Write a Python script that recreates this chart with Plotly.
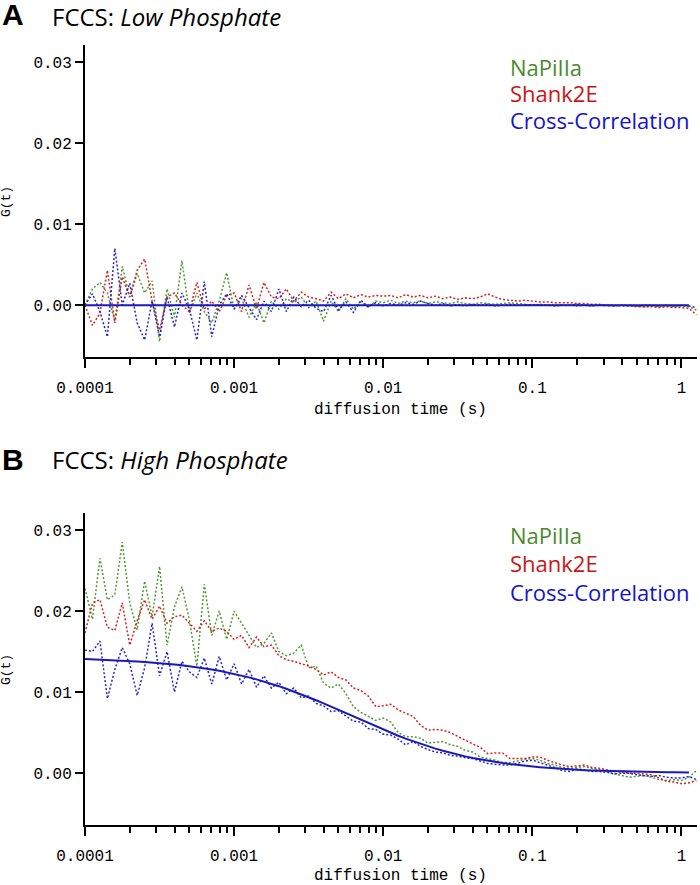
import plotly.graph_objects as go

# lag times (s)
TAU = [
    1.000e-4, 1.122e-4, 1.259e-4, 1.413e-4, 1.585e-4, 1.778e-4, 1.995e-4, 2.239e-4, 2.512e-4, 2.818e-4,
    3.162e-4, 3.548e-4, 3.981e-4, 4.467e-4, 5.012e-4, 5.623e-4, 6.310e-4, 7.079e-4, 7.943e-4, 8.913e-4,
    1.000e-3, 1.122e-3, 1.259e-3, 1.413e-3, 1.585e-3, 1.778e-3, 1.995e-3, 2.239e-3, 2.512e-3, 2.818e-3,
    3.162e-3, 3.548e-3, 3.981e-3, 4.467e-3, 5.012e-3, 5.623e-3, 6.310e-3, 7.079e-3, 7.943e-3, 8.913e-3,
    1.000e-2, 1.122e-2, 1.259e-2, 1.413e-2, 1.585e-2, 1.778e-2, 1.995e-2, 2.239e-2, 2.512e-2, 2.818e-2,
    3.162e-2, 3.548e-2, 3.981e-2, 4.467e-2, 5.012e-2, 5.623e-2, 6.310e-2, 7.079e-2, 7.943e-2, 8.913e-2,
    1.000e-1, 1.122e-1, 1.259e-1, 1.413e-1, 1.585e-1, 1.778e-1, 1.995e-1, 2.239e-1, 2.512e-1, 2.818e-1,
    3.162e-1, 3.548e-1, 3.981e-1, 4.467e-1, 5.012e-1, 5.623e-1, 6.310e-1, 7.079e-1, 7.943e-1, 8.913e-1,
    1.000, 1.122, 1.259,
]
TAU_FIT = TAU[:82]

# ---- Panel A: Low phosphate (G(t) values x 1e-3) ----
A_GREEN = [
    0.0, 2.0, 2.8, 1.5, -2.0, 4.8, 1.0, 3.9, 1.5, 3.0,
    -4.5, 2.0, -1.5, 5.5, -1.0, 1.5, -0.8, -2.2, 0.5, 4.0,
    -0.5, 0.8, -1.5, 0.3, -2.2, 0.5, -0.5, 0.8, 0.3, 1.0,
    -0.3, 0.5, -2.0, 0.5, -0.8, 0.8, -0.5, 0.4, -0.3, 0.5,
    0.3, 0.6, 0.2, 0.5, 0.3, 0.5, 0.2, 0.4, 0.3, 0.2,
    0.4, 0.2, 0.1, 0.3, 0.2, 0.1, 0.2, 0.3, 0.2, 0.1,
    0.0, 0.1, 0.0, 0.1, 0.0, 0.0, -0.1, 0.0, -0.1, 0.0,
    -0.1, -0.1, 0.0, -0.1, -0.1, -0.2, -0.1, -0.2, -0.1, -0.2,
    -0.1, -0.2, -0.6,
]
A_RED = [
    0.0, -2.5, -1.0, 4.3, -2.2, 3.5, 1.0, 4.3, 5.7, 0.5,
    -3.1, 1.0, 1.5, 0.0, -0.8, 2.8, -0.5, 0.5, -0.8, 1.2,
    1.5, -0.8, 2.5, -0.5, 2.8, 1.0, 0.8, 2.0, 0.5, 1.6,
    1.0, 0.8, 0.5, 1.6, 0.8, 1.4, 0.9, 1.3, 1.0, 1.2,
    1.1, 1.2, 0.9, 1.3, 1.0, 1.2, 0.9, 1.1, 0.8, 1.0,
    0.7, 0.9, 0.8, 1.0, 1.4, 1.0, 0.7, 0.6, 0.5, 0.6,
    0.5, 0.4, 0.4, 0.3, 0.3, 0.3, 0.2, 0.2, 0.1, 0.1,
    0.0, 0.0, -0.1, -0.1, -0.2, -0.2, -0.2, -0.3, -0.2, -0.3,
    -0.3, -0.4, -1.2,
]
A_BLUE = [
    0.0, 1.4, -0.8, -3.9, 7.0, 0.0, 2.7, -2.2, -4.3, 0.5,
    -3.9, 1.0, -2.7, 1.5, -0.5, -4.3, 2.9, -3.9, 0.0, 1.4,
    -0.5, 1.2, -0.3, -1.8, 0.5, -0.8, 2.0, -0.8, 1.0, -0.2,
    0.6, -0.4, -0.8, 1.2, -0.6, 0.4, -0.9, 0.6, -0.2, 0.3,
    -0.1, 0.2, 0.0, 0.3, 0.1, 0.5, 0.2, 0.0, 0.2, -0.1,
    0.1, -0.1, 0.1, 0.0, 0.1, -0.1, 0.0, 0.1, 0.0, 0.0,
    0.1, 0.0, 0.0, -0.1, 0.0, 0.0, 0.1, 0.0, -0.1, 0.0,
    0.0, -0.1, 0.0, 0.0, -0.1, 0.0, 0.0, -0.1, 0.0, -0.1,
    0.0, -0.1, -0.3,
]
A_FIT = [0.0] * 82

# ---- Panel B: High phosphate (G(t) values x 1e-3) ----
B_GREEN = [
    22.8, 19.0, 26.5, 21.4, 22.0, 28.5, 21.0, 17.7, 23.7, 19.3,
    25.5, 15.8, 20.5, 23.0, 18.9, 13.2, 23.3, 17.0, 20.0, 16.5,
    20.0, 18.5, 17.0, 15.5, 16.0, 17.3, 15.0, 14.5, 14.8, 15.8,
    13.0, 13.2, 11.1, 10.5, 11.0, 9.8, 8.2, 7.5, 7.0, 6.5,
    6.8, 6.3, 5.0, 4.5, 4.5, 4.3, 3.7, 3.8, 3.9, 3.5,
    3.3, 2.8, 2.6, 2.0, 1.8, 1.6, 1.3, 1.3, 1.5, 1.7,
    1.8, 1.6, 1.2, 1.0, 0.7, 0.6, 0.7, 0.8, 0.6, 0.4,
    0.2, -0.1, -0.3, -0.5, -0.4, -0.3, -0.5, -0.8, -0.9, -0.8,
    -0.9, -0.5, 0.3,
]
B_RED = [
    17.3, 21.0, 21.4, 18.0, 17.6, 21.0, 15.8, 18.8, 21.4, 19.0,
    20.6, 18.5, 19.3, 19.5, 18.5, 17.5, 18.8, 17.5, 17.9, 17.5,
    16.5, 17.0, 15.5, 16.8, 15.6, 15.8, 14.5, 14.0, 13.8, 13.5,
    13.2, 12.8, 12.1, 12.5, 11.8, 11.5, 10.5, 10.2, 9.5, 8.2,
    8.3, 8.5, 7.8, 7.4, 7.0, 5.9, 5.3, 5.4, 5.3, 5.0,
    4.5, 4.0, 3.6, 3.2, 2.4, 2.5, 2.5, 1.8, 1.8, 1.8,
    2.0, 2.0, 1.6, 1.3, 1.0, 0.8, 0.9, 1.0, 0.7, 0.6,
    0.4, 0.2, 0.1, 0.0, 0.0, -0.1, -0.2, -0.6, -1.0, -1.1,
    -1.3, -1.2, -0.9,
]
B_BLUE = [
    15.2, 15.0, 16.3, 9.2, 12.8, 15.5, 13.5, 9.6, 13.0, 18.5,
    12.0, 15.0, 10.0, 13.8, 12.5, 11.8, 14.2, 11.0, 14.4, 11.5,
    13.5, 11.0, 12.8, 10.6, 12.0, 10.5, 11.2, 9.8, 10.5, 9.3,
    9.5, 8.6, 8.3, 7.6, 7.7, 7.1, 6.4, 6.3, 5.5, 5.4,
    4.8, 4.7, 4.2, 3.5, 3.9, 3.3, 2.9, 2.6, 2.5, 2.2,
    2.1, 1.9, 1.8, 1.5, 1.2, 1.1, 1.0, 1.0, 1.2, 1.5,
    1.6, 1.3, 1.0, 0.7, 0.3, 0.2, 0.5, 0.4, 0.2, 0.2,
    0.1, -0.1, 0.0, 0.0, -0.2, -0.3, -0.4, -0.3, -0.5, -0.6,
    -0.6, -0.4, -0.8,
]
B_FIT = [
    14.07, 14.04, 14.01, 13.97, 13.93, 13.89, 13.84, 13.79, 13.72, 13.66,
    13.58, 13.50, 13.41, 13.31, 13.20, 13.07, 12.94, 12.79, 12.63, 12.45,
    12.26, 12.05, 11.82, 11.57, 11.31, 11.03, 10.73, 10.41, 10.08, 9.73,
    9.36, 8.99, 8.60, 8.20, 7.79, 7.38, 6.97, 6.56, 6.15, 5.75,
    5.36, 4.98, 4.62, 4.26, 3.93, 3.61, 3.31, 3.02, 2.76, 2.51,
    2.28, 2.07, 1.87, 1.69, 1.53, 1.38, 1.24, 1.12, 1.00, 0.90,
    0.81, 0.73, 0.65, 0.58, 0.52, 0.47, 0.42, 0.37, 0.33, 0.30,
    0.27, 0.24, 0.21, 0.19, 0.17, 0.15, 0.13, 0.12, 0.11, 0.10,
    0.09, 0.08,
]

SERIES_NAMES = ["NaPiIIa", "Shank2E", "Cross-Correlation"]
PANEL_LETTERS = ["A", "B"]
PANEL_TITLES = ["Low Phosphate", "High Phosphate"]

X_TICKVALS = [1e-4, 1e-3, 1e-2, 1e-1, 1]
X_TICKTEXT = ["0.0001", "0.001", "0.01", "0.1", "1"]
X_MINOR = [m * d for d in [1e-4, 1e-3, 1e-2, 1e-1, 1] for m in range(2, 10) if m * d < 1.27]
Y_TICKVALS = [0, 0.01, 0.02, 0.03]
Y_TICKTEXT = ["0.00", "0.01", "0.02", "0.03"]

DATA_COLORS = ["#4f9a30", "#d42222", "#2626cc"]
TEXT_COLORS = ["#4a8a2c", "#cc1414", "#1414cc"]
FIT_COLOR = "#1a1ab8"
MONO = "Liberation Mono, Courier New, monospace"
SANS = "Open Sans, Lato, sans-serif"

fig = go.Figure()

panels = [
    (A_GREEN, A_RED, A_BLUE, A_FIT, "x", "y"),
    (B_GREEN, B_RED, B_BLUE, B_FIT, "x2", "y2"),
]
for g, r, b, f, xa, ya in panels:
    for vals, col, name in zip([g, r, b], DATA_COLORS, SERIES_NAMES):
        fig.add_trace(go.Scatter(
            x=TAU, y=[v / 1000 for v in vals], mode="lines", name=name,
            line=dict(color=col, width=1.5, dash="2px,2px"),
            xaxis=xa, yaxis=ya, showlegend=False,
        ))
    fig.add_trace(go.Scatter(
        x=TAU_FIT, y=[v / 1000 for v in f], mode="lines", name="fit",
        line=dict(color=FIT_COLOR, width=2),
        xaxis=xa, yaxis=ya, showlegend=False,
    ))

xaxis_common = dict(
    type="log", range=[-4, 0.104],
    tickmode="array", tickvals=X_TICKVALS, ticktext=X_TICKTEXT,
    ticks="outside", ticklen=9, tickwidth=2, tickcolor="black",
    minor=dict(tickmode="array", tickvals=X_MINOR, ticks="outside",
               ticklen=6, tickwidth=2, tickcolor="black", showgrid=False),
    showline=True, linewidth=2, linecolor="black",
    showgrid=False, zeroline=False,
    tickfont=dict(family=MONO, size=16, color="black"),
    ticklabelstandoff=6,
)
yaxis_common = dict(
    range=[-0.0064, 0.0321],
    tickmode="array", tickvals=Y_TICKVALS, ticktext=Y_TICKTEXT,
    ticks="outside", ticklen=8, tickwidth=2, tickcolor="black",
    showline=True, linewidth=2, linecolor="black",
    showgrid=False, zeroline=False,
    tickfont=dict(family=MONO, size=16, color="black"),
)

fig.update_layout(
    width=700, height=885,
    margin=dict(l=85, r=3, t=45, b=60),
    paper_bgcolor="white", plot_bgcolor="white",
    xaxis=dict(domain=[0, 1], anchor="y", **xaxis_common),
    yaxis=dict(domain=[0.6, 1], anchor="x", **yaxis_common),
    xaxis2=dict(domain=[0, 1], anchor="y2", **xaxis_common),
    yaxis2=dict(domain=[0, 0.4], anchor="x2", **yaxis_common),
)

annotations = []
# panel geometry in paper coords: (letter y, title y, axis-title y, G(t) y, legend ys)
panel_pos = [
    (1.0385, 1.0365, 0.532, 0.799, [0.972, 0.938, 0.904]),
    (0.4692, 0.4692, -0.065, 0.199, [0.372, 0.336, 0.299]),
]
for letter, title, (ly, ty, axy, gy, legys) in zip(PANEL_LETTERS, PANEL_TITLES, panel_pos):
    annotations.append(dict(
        text=f"<b>{letter}</b>", x=-0.1389, y=ly, xref="paper", yref="paper",
        xanchor="left", yanchor="middle", showarrow=False,
        font=dict(family="Liberation Sans, Arial, sans-serif", size=30, color="black"),
    ))
    annotations.append(dict(
        text=f"FCCS: <i>{title}</i>", x=-0.0572, y=ty, xref="paper", yref="paper",
        xanchor="left", yanchor="middle", showarrow=False,
        font=dict(family=SANS, size=24, color="black"),
    ))
    annotations.append(dict(
        text="diffusion time (s)", x=0.516, y=axy, xref="paper", yref="paper",
        xanchor="center", yanchor="middle", showarrow=False,
        font=dict(family=MONO, size=16, color="black"),
    ))
    annotations.append(dict(
        text="G(t)", x=-0.127, y=gy, xref="paper", yref="paper",
        xanchor="center", yanchor="middle", showarrow=False, textangle=-90,
        font=dict(family=MONO, size=13, color="black"),
    ))
    for name, col, yy in zip(SERIES_NAMES, TEXT_COLORS, legys):
        annotations.append(dict(
            text=name, x=0.691, y=yy, xref="paper", yref="paper",
            xanchor="left", yanchor="middle", showarrow=False,
            font=dict(family=SANS, size=22, color=col),
        ))

fig.update_layout(annotations=annotations)
fig.write_html("out.html", config={"displayModeBar": False},
               post_script="document.body.style.margin='0';")
